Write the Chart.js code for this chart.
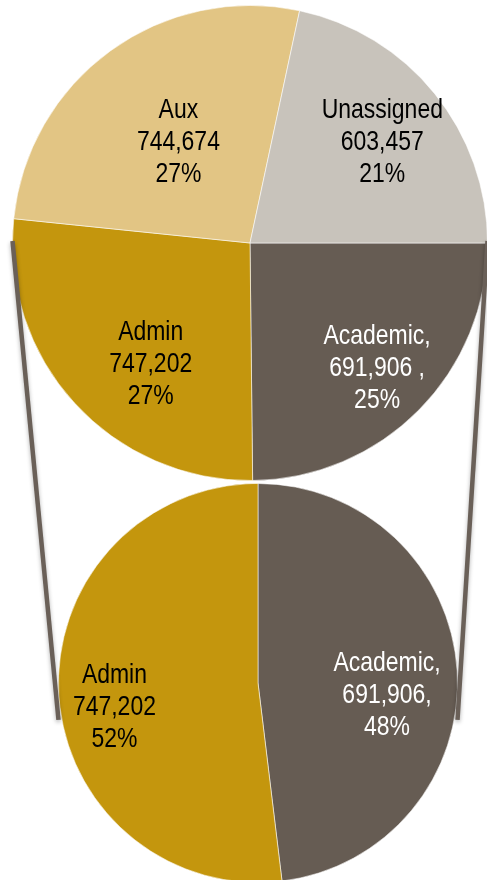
<!DOCTYPE html>
<html>
<head>
<meta charset="utf-8">
<script src="https://cdn.jsdelivr.net/npm/chart.js@4.4.1/dist/chart.umd.min.js"></script>
<style>
  html, body { margin: 0; padding: 0; background: #fff; width: 487px; height: 880px; overflow: hidden; }
  #wrap { position: relative; width: 487px; height: 880px; }
  canvas { position: absolute; }
</style>
</head>
<body>
<div id="wrap">
  <canvas id="topPie" width="476" height="476" style="left:12px;top:5px"></canvas>
  <canvas id="bottomPie" width="400" height="400" style="left:58px;top:483px"></canvas>
  <canvas id="links" width="487" height="880" style="left:0;top:0;pointer-events:none"></canvas>
</div>
<script>
// top pie: all space, clockwise from 3 o'clock
const topLabels = ["Academic", "Admin", "Aux", "Unassigned"];
const topValues = [691906, 747202, 744674, 603457];
const topText = [
  ["Academic,", "691,906 ,", "25%"],
  ["Admin", "747,202", "27%"],
  ["Aux", "744,674", "27%"],
  ["Unassigned", "603,457", "21%"]
];

// bottom pie: breakdown of Academic + Admin, clockwise from 12 o'clock
const bottomLabels = ["Academic", "Admin"];
const bottomValues = [691906, 747202];
const bottomText = [
  ["Academic,", "691,906,", "48%"],
  ["Admin", "747,202", "52%"]
];

const colors = {
  Academic: "#665c53",
  Admin: "#c4960d",
  Aux: "#e2c584",
  Unassigned: "#c8c3bb"
};
const textColors = { Academic: "#ffffff", Admin: "#000000", Aux: "#000000", Unassigned: "#000000" };

// narrow Arial-like text: Liberation Sans squeezed horizontally
const sliceText = {
  id: "sliceText",
  afterDatasetsDraw(chart, args, opts) {
    const ctx = chart.ctx;
    const meta = chart.getDatasetMeta(0);
    meta.data.forEach((arc, i) => {
      const p = arc.getProps(["x", "y", "startAngle", "endAngle", "outerRadius"], true);
      const mid = (p.startAngle + p.endAngle) / 2 + (opts.turn[i] || 0) * Math.PI / 180;
      const d = p.outerRadius * opts.reach[i];
      const x = p.x + Math.cos(mid) * d;
      const y = p.y + Math.sin(mid) * d;
      const lines = opts.text[i];
      ctx.save();
      ctx.font = "28px 'Liberation Sans', Arial, sans-serif";
      ctx.fillStyle = textColors[chart.data.labels[i]];
      ctx.textAlign = "center";
      ctx.textBaseline = "middle";
      lines.forEach((t, k) => {
        ctx.save();
        ctx.translate(x, y + (k - (lines.length - 1) / 2) * 32);
        ctx.scale(0.82, 1);
        ctx.fillText(t, 0, 0);
        ctx.restore();
      });
      ctx.restore();
    });
  }
};

function makePie(id, labels, values, rotation, text, reach, turn) {
  return new Chart(document.getElementById(id), {
    type: "pie",
    data: {
      labels: labels,
      datasets: [{
        data: values,
        backgroundColor: labels.map(l => colors[l]),
        borderColor: "rgba(255,255,255,0.55)",
        borderWidth: 1
      }]
    },
    options: {
      responsive: false,
      animation: false,
      rotation: rotation,
      layout: { padding: 0 },
      plugins: {
        legend: { display: false },
        tooltip: { enabled: false },
        sliceText: { text: text, reach: reach, turn: turn }
      }
    },
    plugins: [sliceText]
  });
}

const topChart = makePie("topPie", topLabels, topValues, 90, topText,
  [0.75, 0.66, 0.52, 0.70], [-0.2, -8.3, 0.6, 1.7]);
const bottomChart = makePie("bottomPie", bottomLabels, bottomValues, 0, bottomText,
  [0.65, 0.73], [9.1, -6.2]);

// connector lines from the top pie's split to the bottom pie
function drawLinks() {
  const c = document.getElementById("links").getContext("2d");
  const a = topChart.getDatasetMeta(0).data[0];
  const b = bottomChart.getDatasetMeta(0).data[0];
  const t = topChart.canvas, bt = bottomChart.canvas;
  const cx1 = t.offsetLeft + a.x, cy1 = t.offsetTop + a.y, r1 = a.outerRadius;
  const cx2 = bt.offsetLeft + b.x, cy2 = bt.offsetTop + b.y, r2 = b.outerRadius;
  c.strokeStyle = "#6a6058";
  c.lineWidth = 4.5;
  c.shadowColor = "rgba(0,0,0,0.3)";
  c.shadowBlur = 4;
  c.shadowOffsetY = 2;
  [-1, 1].forEach(s => {
    c.beginPath();
    c.moveTo(cx1 + s * r1, cy1 - 2);
    c.lineTo(cx2 + s * r2, cy2 + 0.185 * r2);
    c.stroke();
  });
}
drawLinks();
</script>
</body>
</html>
